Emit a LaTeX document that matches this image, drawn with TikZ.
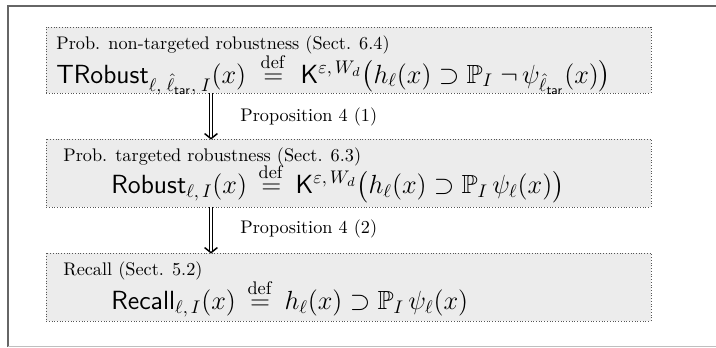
\documentclass[tikz,border=0pt]{standalone}
\usepackage{amsmath,amssymb}
\usetikzlibrary{arrows.meta}
\definecolor{boxfill}{HTML}{ECECEC}
\definecolor{boxline}{HTML}{555555}
\tikzset{
  propbox/.style={draw=boxline, densely dotted, fill=boxfill, line width=0.5pt, minimum width=331.5pt, inner sep=0pt},
  headtxt/.style={anchor=west, inner sep=0pt, font=\normalsize},
  formtxt/.style={anchor=west, inner sep=0pt, font=\Large},
  implarrow/.style={double, double distance=1.0pt, line width=0.45pt, -{Straight Barb[length=2.8pt, width=7pt, line width=0.8pt]}},
  proptxt/.style={anchor=west, inner sep=0pt}
}
\newcommand{\defeq}{\stackrel{\mathrm{def}}{=}}
\begin{document}
\begin{tikzpicture}[x=0.548pt, y=-0.548pt]
\useasboundingbox (0,0) rectangle (716,347);
\draw[gray!80!black, line width=0.75pt] (8,347) -- (8,6) -- (716,6);
\draw[gray!50, line width=0.6pt] (8,346.5) -- (716,346.5);

\node[propbox, minimum height=36.2pt] (b1) at (348.5,60) {};
\node[propbox, minimum height=37.3pt] (b2) at (348.5,173) {};
\node[propbox, minimum height=37.3pt] (b3) at (348.5,287) {};

\node[headtxt] (h1) at (56,45) {Prob. non-targeted robustness (Sect. 6.4)};
\node[formtxt] (f1) at (56,74) {$\mathsf{TRobust}_{\ell,\;\hat{\ell}_{\mathsf{tar}},\;I}(x)\;\defeq\;\mathsf{K}^{\varepsilon,\,W_d}\bigl(h_\ell(x)\supset\mathbb{P}_I\;\neg\,\psi_{\hat{\ell}_{\mathsf{tar}}}(x)\bigr)$};

\node[headtxt] (h2) at (63,157) {Prob. targeted robustness (Sect. 6.3)};
\node[formtxt] (f2) at (111,183) {$\mathsf{Robust}_{\ell,\,I}(x)\,\defeq\,\mathsf{K}^{\varepsilon,\,W_d}\bigl(h_\ell(x)\supset\mathbb{P}_I\,\psi_\ell(x)\bigr)$};

\node[headtxt] (h3) at (63,271) {Recall (Sect. 5.2)};
\node[formtxt] (f3) at (111,298) {$\mathsf{Recall}_{\ell,\,I}(x)\,\defeq\,h_\ell(x)\supset\mathbb{P}_I\,\psi_\ell(x)$};

\coordinate (ax) at (211,0);
\draw[implarrow] (b1.south -| ax) -- ([yshift=-0.6pt]b2.north -| ax);
\draw[implarrow] (b2.south -| ax) -- ([yshift=-0.6pt]b3.north -| ax);
\node[proptxt] (p1) at (240,117) {Proposition 4 (1)};
\node[proptxt] (p2) at (240,229) {Proposition 4 (2)};
\end{tikzpicture}
\end{document}
